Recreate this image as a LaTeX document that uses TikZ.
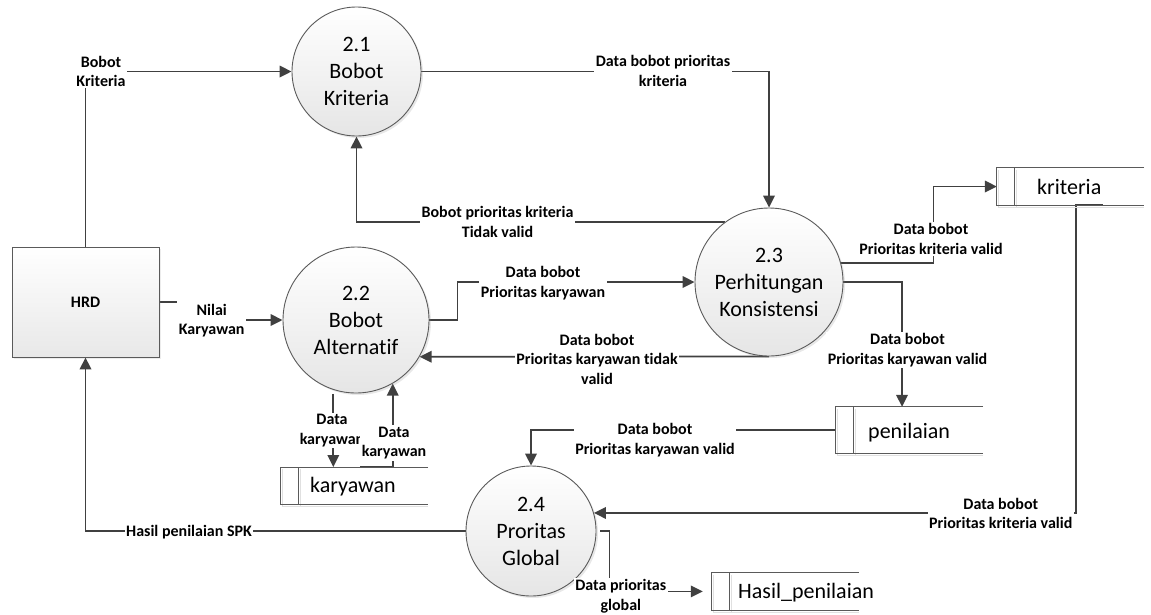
\documentclass[tikz,border=0pt]{standalone}
\usepackage{fontspec}
\setmainfont[Ligatures=NoCommon]{Carlito}
\usetikzlibrary{arrows.meta,shadows,backgrounds}
\definecolor{linegray}{HTML}{404040}
\definecolor{edgegray}{HTML}{5A5A5A}
\tikzset{
  proc/.style={circle, draw=edgegray, line width=0.9pt, top color=white,
    bottom color=black!10, inner sep=0pt, align=center,
    font=\fontsize{22}{27}\selectfont,
    drop shadow={shadow xshift=2pt, shadow yshift=-2pt, opacity=0.18}},
  entity/.style={rectangle, draw=edgegray, line width=0.9pt, top color=white,
    bottom color=black!9, minimum width=147pt, minimum height=110pt,
    font=\bfseries\fontsize{16}{19.5}\selectfont,
    drop shadow={shadow xshift=2pt, shadow yshift=-2pt, opacity=0.15}},
  store/.style={rectangle, minimum width=147pt, minimum height=37pt, inner sep=0pt},
  storeline/.style={draw=edgegray, line width=1pt},
  storeshade/.style={draw=black!12, line width=1pt},
  storetext/.style={anchor=base west, inner sep=0pt, font=\fontsize{22}{27}\selectfont},
  lbl/.style={fill=white, inner sep=1.5pt, align=center,
    font=\bfseries\fontsize{16}{19.5}\selectfont},
  flow/.style={draw=linegray, line width=1.8pt,
    -{Triangle[length=12pt,width=11.5pt]}},
}
\begin{document}
\begin{tikzpicture}[x=1pt,y=-1pt]
\useasboundingbox (0,0) rectangle (1151,614);

% processes
\node[proc, minimum size=129pt] (p21) at (356.5,71.5) {2.1\\Bobot\\Kriteria};
\node[proc, minimum size=146pt] (p22) at (356,320) {2.2\\Bobot\\Alternatif};
\node[proc, minimum size=148pt] (p23) at (769,282) {2.3\\Perhitungan\\Konsistensi};
\node[proc, minimum size=130pt] (p24) at (531,531) {2.4\\Proritas\\Global};

% external entity
\node[entity] (hrd) at (85.5,302) {HRD};

% data stores
\node[store] (kri) at (1070.5,186.5) {};
\node[store, minimum height=46pt] (pen) at (909.5,430) {};
\node[store] (kar) at (354.5,485.7) {};
\node[store] (has) at (785.5,591.4) {};
\foreach \s in {kri,pen,kar,has}{
  \draw[storeshade] ([xshift=2pt,yshift=-2pt]\s.north west) -- ([xshift=2pt,yshift=-2pt]\s.south west) -- ([yshift=-2pt]\s.south east);
  \draw[storeshade] ([xshift=20pt,yshift=-2pt]\s.north west) -- ([xshift=20pt,yshift=-2pt]\s.south west);
  \draw[storeline] (\s.north east) -- (\s.north west) -- (\s.south west) -- (\s.south east);
  \draw[storeline] ([xshift=18pt]\s.north west) -- ([xshift=18pt]\s.south west);
}
\node[storetext] (tkri) at (1037,194) {kriteria};
\node[storetext] (tpen) at (868,438) {penilaian};
\node[storetext] (tkar) at (310,492) {karyawan};
\node[storetext] (thas) at (738,598) {Hasil\_penilaian};

% flow labels
\node[lbl] (l1) at (101,71.5) {Bobot\\Kriteria};
\node[lbl] (l2) at (663,71) {Data bobot prioritas\\kriteria};
\node[lbl] (l3) at (497.5,222) {Bobot prioritas kriteria\\Tidak valid};
\node[lbl, inner ysep=5pt] (l4) at (211.7,320.5) {Nilai\\Karyawan};
\node[lbl] (l5) at (543,283) {Data bobot\\Prioritas karyawan};
\node[lbl] (l6) at (597,359) {Data bobot\\Prioritas karyawan tidak\\valid};
\node[lbl] (l7) at (931,239) {Data bobot\\Prioritas kriteria valid};
\node[lbl] (l8) at (907.5,350) {Data bobot\\Prioritas karyawan valid};
\node[lbl] (l9) at (655,440) {Data bobot\\Prioritas karyawan valid};
\node[lbl] (l10) at (1000.8,513.5) {Data bobot\\Prioritas kriteria valid};
\node[lbl] (l11) at (189,532) {Hasil penilaian SPK};
\node[lbl] (l12) at (620.8,596) {Data prioritas\\global};
\node[lbl] (l13) at (332,430.5) {Data\\karyawan};
\node[lbl] (l14) at (394,443) {Data\\karyawan};

% data flows
\begin{pgfonlayer}{background}
\draw[flow] (hrd.north) |- (p21.west);
\draw[flow] (p21.east) -| (p23.north);
\draw[flow] (p23.126) -| (p21.south);
\draw[flow] (hrd.east) -- ++(53,0) |- (p22.west);
\draw[flow] (p22.east) -- ++(28,0) |- (p23.west);
\draw[flow] (p23.south) -- (p22.-30);
\draw[flow] (p23.15) -- ++(92.5,0) |- (kri.west);
\draw[flow] (p23.east) -| ([xshift=-7.5pt]pen.north);
\draw[flow] (pen.west) -| (p24.north);
\draw[flow] ([xshift=32pt]kri.south) -- ([xshift=5.5pt]kri.south) |- (p24.16);
\draw[flow] (p24.west) -| (hrd.south);
\draw[flow] ([xshift=4pt]p24.east) -- ++(9,0) |- ([xshift=-9pt]has.west);
\draw[flow, shorten <=4pt] (p22.252) -- (p22.252 |- kar.north);
\draw[flow] ([xshift=5.5pt]kar.north) -| (p22.300);
\end{pgfonlayer}
\end{tikzpicture}
\end{document}
